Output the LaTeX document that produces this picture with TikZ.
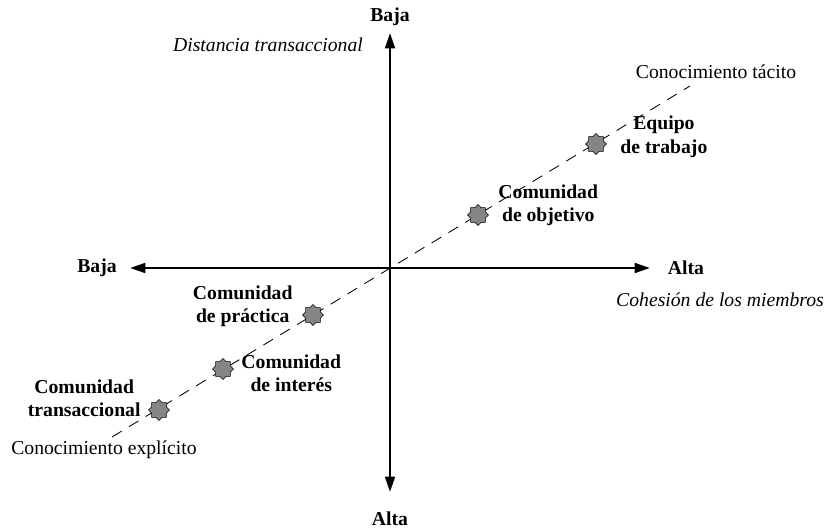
\documentclass[tikz,border=0pt]{standalone}
\usepackage{fontspec}
\setmainfont{Liberation Serif}
\usetikzlibrary{arrows.meta,positioning,shapes.geometric}

\begin{document}
\begin{tikzpicture}[
		>={Triangle[length=11pt,width=7pt]},
		every node/.style={
			font=\fontsize{14}{16.5}\selectfont
		},
		axis/.style={
			<->,
			line width=1.8pt
		},
		group/.style={
			star,
			star points=8,
			star point ratio=1.3,
			minimum size=0.52cm,
			inner sep=0pt,
			draw=black,
			thin,
			fill=black!48
		},
		tag/.style={
			font=\fontsize{14}{16.5}\selectfont\bfseries,
			align=center,
			inner sep=1pt
		},
		note/.style={
			font=\fontsize{14}{16.5}\selectfont\itshape
		}
		]
		\useasboundingbox (0,0) rectangle (20.65,13.2);
		% axes
		\coordinate (top) at (9.75,12.375);
		\coordinate (bottom) at (9.75,0.9);
		\coordinate (left) at (3.25,6.5);
		\coordinate (right) at (16.25,6.5);
		\draw[axis] (bottom) -- (top);
		\draw[axis] (left) -- (right);
		\node (topBaja) at (9.75,12.78) {\textbf{Baja}};
		\node (bottomAlta) at (9.75,0.225) {\textbf{Alta}};
		\node (leftBaja) at (2.425,6.5) {\textbf{Baja}};
		\node (rightAlta) at (17.15,6.5) {\textbf{Alta}};
		\node[note] (distancia) at (6.7,12.075) {Distancia transaccional};
		\node[note] (cohesion) at (18.0,5.7) {Cohesión de los miembros};
		% knowledge line
		\coordinate (explicito) at (2.8,2.275);
		\coordinate (tacito) at (17.25,11.05);
		\draw[dashed,dash pattern=on 8pt off 6pt,line width=0.6pt] (explicito) -- (tacito);
		\node (tacitoText) at (17.9,11.4) {Conocimiento tácito};
		\node (explicitoText) at (2.6,1.95) {Conocimiento explícito};
		% groups
		\node[group] (equipo) at (14.9,9.6) {};
		\node[group] (objetivo) at (11.95,7.825) {};
		\node[group] (practica) at (7.825,5.325) {};
		\node[group] (interes) at (5.575,3.975) {};
		\node[group] (transaccional) at (3.975,2.95) {};
		\node[tag,right=0.3cm of equipo,yshift=0.18cm] {Equipo\\de trabajo};
		\node[tag,right=0.2cm of objetivo,yshift=0.25cm] {Comunidad\\de objetivo};
		\node[tag,left=0.2cm of practica,yshift=0.22cm] {Comunidad\\de práctica};
		\node[tag,right=0.15cm of interes,yshift=-0.1cm] {Comunidad\\de interés};
		\node[tag,left=0.15cm of transaccional,yshift=0.3cm] {Comunidad\\transaccional};
		\end{tikzpicture}
\end{document}
